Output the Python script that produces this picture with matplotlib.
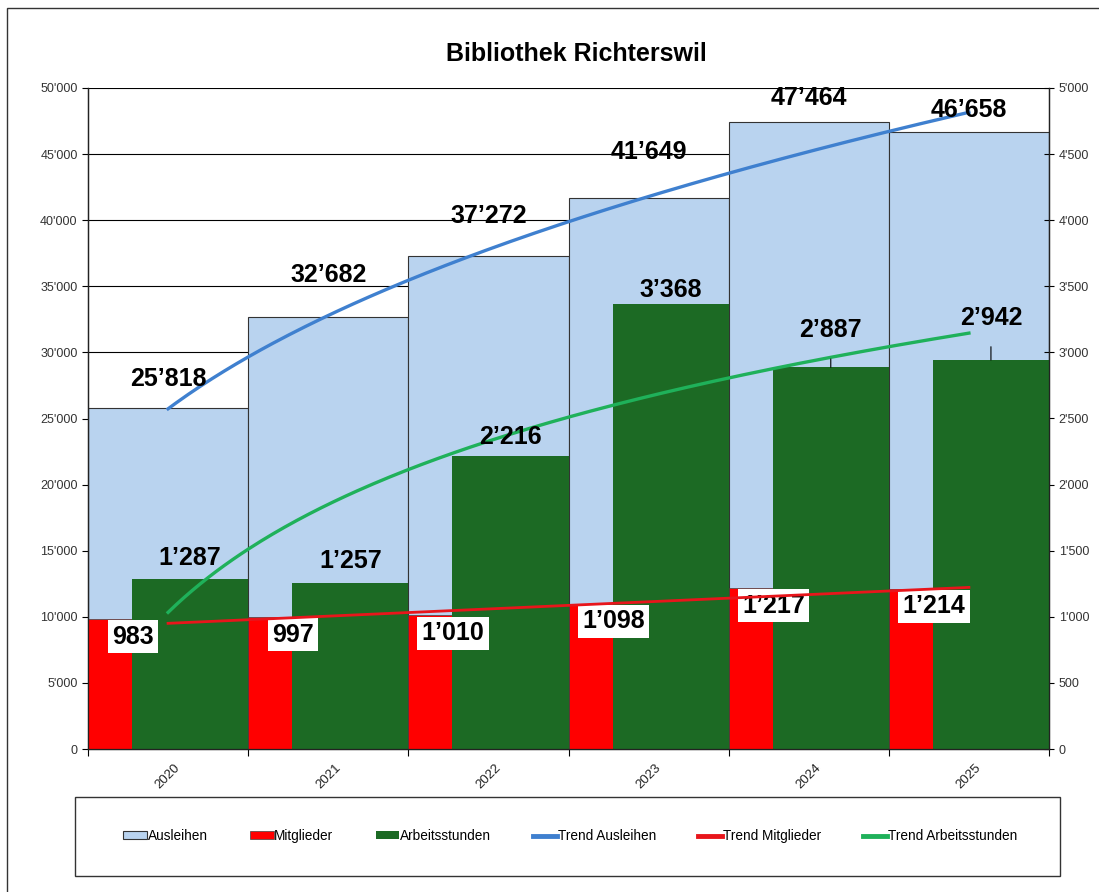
import numpy as np
import matplotlib.pyplot as plt
import matplotlib.transforms as mtransforms
from matplotlib.patches import Patch, Rectangle
from matplotlib.lines import Line2D
from matplotlib.ticker import FuncFormatter

plt.rcParams['font.family'] = ['Liberation Sans', 'DejaVu Sans']

years = ['2020', '2021', '2022', '2023', '2024', '2025']
ausleihen = [25818, 32682, 37272, 41649, 47464, 46658]
mitglieder = [983, 997, 1010, 1098, 1217, 1214]
arbeitsstunden = [1287, 1257, 2216, 3368, 2887, 2942]

# label offsets in pixels (above bar top)
off_ausleihen = [29, 42, 40, 46, 24, 22]
off_arbeit = [21, 22, 19, 14, 37, 42]

c_blue_bar = '#b9d3ef'
c_red = '#ff0000'
c_green = '#1c6a24'
c_trend_blue = '#3f80cf'
c_trend_red = '#e8151b'
c_trend_green = '#1fb15a'


def fmt(v):
    return f'{v:,}'.replace(',', '\u2019')


W, H = 1099, 892
fig = plt.figure(figsize=(W / 100, H / 100), dpi=100)
ax = fig.add_axes([88 / W, 1 - 749 / H, (1049 - 88) / W, (749 - 88) / H])
ax2 = ax.twinx()

x = np.arange(len(years))
ax.bar(x, ausleihen, width=1, align='edge', color=c_blue_bar,
       edgecolor='#333333', linewidth=0.8, zorder=2)
ax.set_xlim(0, len(years))
ax.set_ylim(0, 50000)
ax.set_yticks(range(0, 50001, 5000))
ax.yaxis.grid(True, color='black', linewidth=0.8)
ax.set_axisbelow(True)

ax2.bar(x, mitglieder, width=0.275, align='edge', color=c_red,
        edgecolor='#444444', linewidth=0.5, zorder=2)
ax2.bar(x + 0.275, arbeitsstunden, width=0.725, align='edge', color=c_green,
        linewidth=0, zorder=2)
ax2.set_ylim(0, 5000)
ax2.set_yticks(range(0, 5001, 500))

# trend lines (Excel-style fits)
xt = np.arange(1, len(years) + 1)
xs = np.linspace(1, len(years), 200)
b, a = np.polyfit(np.log(xt), np.log(ausleihen), 1)
ax.plot(xs - 0.5, np.exp(a) * xs ** b, color=c_trend_blue, lw=2.4, zorder=4)
b, a = np.polyfit(xt, mitglieder, 1)
ax2.plot(xs - 0.5, a + b * xs, color=c_trend_red, lw=2.0, zorder=5)
b, a = np.polyfit(np.log(xt), arbeitsstunden, 1)
ax2.plot(xs - 0.5, a + b * np.log(xs), color=c_trend_green, lw=2.4, zorder=5)

lab = dict(fontsize=18, fontweight='bold', color='black')
for i, v in enumerate(ausleihen):
    ax.annotate(fmt(v), (i + 0.5, v), xytext=(0, off_ausleihen[i] * 0.72),
                textcoords='offset points', ha='center', va='center', zorder=6, **lab)
for i, v in enumerate(arbeitsstunden):
    arrow = dict(arrowstyle='-', color='black', lw=0.8, shrinkA=10, shrinkB=0) if off_arbeit[i] > 30 else None
    ax2.annotate(fmt(v), (i + 0.275 + 0.3625, v), xytext=(0, off_arbeit[i] * 0.72),
                 textcoords='offset points', ha='center', va='center',
                 arrowprops=arrow, zorder=6, **lab)
for i, v in enumerate(mitglieder):
    ax2.annotate(fmt(v), (i + 0.28, v), xytext=(0, -4), textcoords='offset points',
                 ha='center', va='top', zorder=4,
                 bbox=dict(boxstyle='square,pad=0.18', fc='white', ec='none'), **lab)

# axes styling
thousands = FuncFormatter(lambda v, p: f'{int(v):,}'.replace(',', "'"))
ax.yaxis.set_major_formatter(thousands)
ax2.yaxis.set_major_formatter(thousands)
ax.tick_params(axis='y', labelsize=9, labelcolor='#333333', length=4, direction='out')
ax2.tick_params(axis='y', labelsize=9, labelcolor='#333333', length=7, direction='inout')
ax.set_xticks(range(len(years) + 1))
ax.set_xticklabels([])
ax.set_xticks(x + 0.5, minor=True)
ax.set_xticklabels(years, minor=True, rotation=45, fontsize=9.5, color='#222222',
                   ha='center', va='top')
shift = mtransforms.ScaledTranslation(-7 / 100, 0, fig.dpi_scale_trans)
for t in ax.get_xticklabels(minor=True):
    t.set_transform(t.get_transform() + shift)
ax.tick_params(axis='x', which='major', length=5, direction='out')
ax.tick_params(axis='x', which='minor', length=0, pad=9)
for a_ in (ax, ax2):
    a_.spines['top'].set_visible(False)
    for s in ('left', 'right', 'bottom'):
        a_.spines[s].set_color('#222222')
        a_.spines[s].set_linewidth(0.9)

fig.text(576 / W, 1 - 54 / H, 'Bibliothek Richterswil', ha='center', va='center',
         fontsize=18, fontweight='bold')

# legend
handles = [
    Patch(facecolor=c_blue_bar, edgecolor='#333333', linewidth=0.8, label='Ausleihen'),
    Patch(facecolor=c_red, edgecolor='#444444', linewidth=0.5, label='Mitglieder'),
    Patch(facecolor=c_green, edgecolor='none', label='Arbeitsstunden'),
    Line2D([], [], color=c_trend_blue, lw=3.5, label='Trend Ausleihen'),
    Line2D([], [], color=c_trend_red, lw=3.5, label='Trend Mitglieder'),
    Line2D([], [], color=c_trend_green, lw=3.5, label='Trend Arbeitsstunden'),
]
fig.legend(handles=handles, ncol=6, loc='center', bbox_to_anchor=(570 / W, 1 - 836 / H),
           frameon=False, prop={'size': 9.8},
           handlelength=1.75, handleheight=0.45, handletextpad=0.05, columnspacing=3.1)
fig.patches.append(Rectangle((75 / W, 1 - 876 / H), 985 / W, 79 / H, transform=fig.transFigure,
                             fill=False, edgecolor='#333333', linewidth=1))
fig.patches.append(Rectangle((7 / W, 1 - 905 / H), 1110 / W, 897 / H, transform=fig.transFigure,
                             fill=False, edgecolor='#333333', linewidth=1, clip_on=False))

plt.savefig('out.png', dpi=100)
